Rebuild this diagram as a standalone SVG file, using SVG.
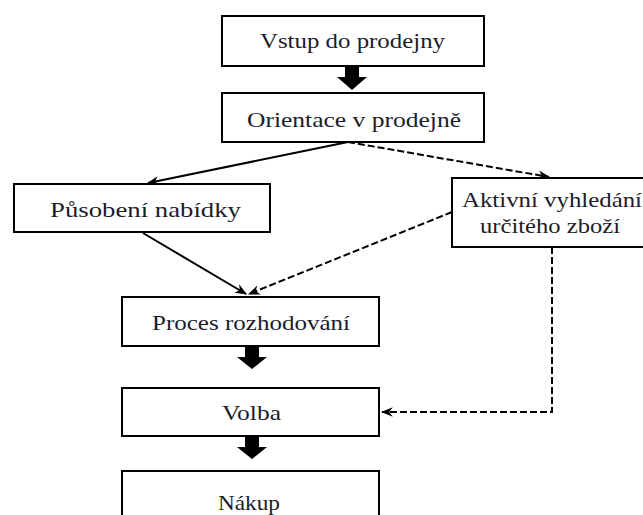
<svg xmlns="http://www.w3.org/2000/svg" width="643" height="515" viewBox="0 0 643 515">
<style>
.box{fill:#fff;stroke:#000;stroke-width:2}
.t{font-family:"Liberation Serif","Times New Roman",serif;font-size:22px;fill:#1c1c2a;text-anchor:start}
.ln{fill:none;stroke:#000;stroke-width:2}
.ds{fill:none;stroke:#000;stroke-width:2;stroke-dasharray:7,3}
.fat{fill:#000}
</style>
<defs>
<marker id="ah" viewBox="0 0 10 10" refX="9" refY="5" markerWidth="6" markerHeight="6" orient="auto" markerUnits="strokeWidth">
<path d="M0,1 L10,5 L0,9 L3,5 Z" fill="#000"/>
</marker>
</defs>
<rect width="643" height="515" fill="#fff"/>
<g id="connectors">
<path class="fat" d="M345,66 h14 v11 h8 l-15,13 l-15,-13 h8 Z"/>
<path class="fat" d="M245,347 h14 v10 h8 l-15,12 l-15,-12 h8 Z"/>
<path class="fat" d="M245,437 h14 v10 h8 l-15,12 l-15,-12 h8 Z"/>
<line class="ln" x1="348" y1="142" x2="148" y2="183" marker-end="url(#ah)"/>
<line class="ds" x1="348" y1="142" x2="549" y2="177" marker-end="url(#ah)"/>
<line class="ln" x1="143" y1="233" x2="246" y2="294" marker-end="url(#ah)"/>
<line class="ds" x1="452" y1="212" x2="249" y2="294" marker-end="url(#ah)"/>
<polyline class="ds" points="552,247 552,412 382,412" marker-end="url(#ah)"/>
</g>
<g id="n1"><rect class="box" x="222" y="16" width="262" height="50"/><text class="t" x="260" y="48" textLength="185" lengthAdjust="spacingAndGlyphs">Vstup do prodejny</text></g>
<g id="n2"><rect class="box" x="222" y="93" width="262" height="49"/><text class="t" x="247" y="127" textLength="214" lengthAdjust="spacingAndGlyphs">Orientace v prodejně</text></g>
<g id="n3"><rect class="box" x="14" y="184" width="256" height="48"/><text class="t" x="50" y="217" textLength="191" lengthAdjust="spacingAndGlyphs">Působení nabídky</text></g>
<g id="n4"><rect class="box" x="452" y="178" width="200" height="69"/><text class="t" x="462" y="207" textLength="180" lengthAdjust="spacingAndGlyphs">Aktivní vyhledání</text><text class="t" x="480" y="233" textLength="140" lengthAdjust="spacingAndGlyphs">určitého zboží</text></g>
<g id="n5"><rect class="box" x="122" y="297" width="257" height="49"/><text class="t" x="152" y="330" textLength="198" lengthAdjust="spacingAndGlyphs">Proces rozhodování</text></g>
<g id="n6"><rect class="box" x="122" y="388" width="257" height="48"/><text class="t" x="222" y="420" textLength="59" lengthAdjust="spacingAndGlyphs">Volba</text></g>
<g id="n7"><rect class="box" x="122" y="471" width="257" height="60"/><text class="t" x="218" y="510" textLength="62" lengthAdjust="spacingAndGlyphs">Nákup</text></g>
</svg>
